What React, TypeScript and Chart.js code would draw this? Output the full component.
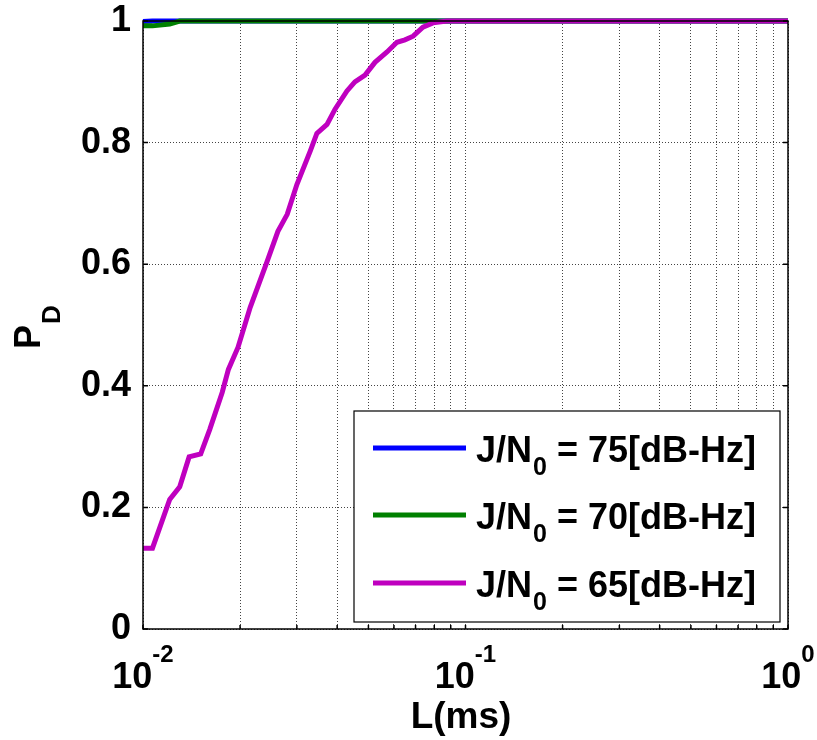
import React, { useEffect, useRef } from 'react';
import { Chart, registerables } from 'chart.js';

Chart.register(...registerables);

// ---- data ----
const xL65 = [0.01, 0.0107, 0.0121, 0.013, 0.0139, 0.0151, 0.0161, 0.0176, 0.0184, 0.0197, 0.0215, 0.0242, 0.0262, 0.028, 0.03, 0.033, 0.0346, 0.0372, 0.0394, 0.0429, 0.0454, 0.0488, 0.0524, 0.0571, 0.0613, 0.0649, 0.0688, 0.0738, 0.0793, 0.0876, 0.1, 1];
const yPD65 = [0.133, 0.133, 0.213, 0.234, 0.283, 0.288, 0.328, 0.389, 0.427, 0.463, 0.529, 0.603, 0.654, 0.682, 0.731, 0.786, 0.815, 0.83, 0.855, 0.885, 0.9, 0.911, 0.932, 0.949, 0.965, 0.969, 0.975, 0.99, 0.997, 1, 1, 1];
const xL70 = [0.01, 0.0107, 0.0121, 0.013, 1];
const yPD70 = [0.992, 0.992, 0.995, 1, 1];
const xL75 = [0.01, 0.0107, 1];
const yPD75 = [0.999, 1, 1];

const seriesLevels = ['75', '70', '65'];
const seriesColors = ['#0000FF', '#008000', '#BF00BF'];

const yTickValues = [0, 0.2, 0.4, 0.6, 0.8, 1];
const yTickLabels = ['0', '0.2', '0.4', '0.6', '0.8', '1'];
const xTickValues = [0.01, 0.02, 0.03, 0.04, 0.05, 0.06, 0.07, 0.08, 0.09, 0.1, 0.2, 0.3, 0.4, 0.5, 0.6, 0.7, 0.8, 0.9, 1];
const xDecadeValues = [0.01, 0.1, 1];
const xDecadeExps = ['-2', '-1', '0'];
const xTitle = 'L(ms)';
const yTitleMain = 'P';
const yTitleSub = 'D';

const FONT = "'Liberation Sans', Arial, sans-serif";
const LINE_W = 5;

function toXY(xs: number[], ys: number[]) {
  return xs.map((x, i) => ({ x, y: ys[i] }));
}

function zeroPadding(scale: any) {
  scale.paddingTop = 0;
  scale.paddingBottom = 0;
  scale.paddingLeft = 0;
  scale.paddingRight = 0;
}

const overlayPlugin = {
  id: 'overlay',
  afterDraw(chart: any) {
    const ctx = chart.ctx as CanvasRenderingContext2D;
    const { left, right, top, bottom } = chart.chartArea;
    const xs = chart.scales.x;
    const ys = chart.scales.y;
    ctx.save();

    // axes box
    ctx.strokeStyle = '#000';
    ctx.lineWidth = 1.5;
    ctx.strokeRect(left, top, right - left, bottom - top);

    // inward ticks
    ctx.lineWidth = 1.5;
    ctx.beginPath();
    yTickValues.forEach((v) => {
      const py = ys.getPixelForValue(v);
      ctx.moveTo(left, py);
      ctx.lineTo(left + 5, py);
      ctx.moveTo(right, py);
      ctx.lineTo(right - 5, py);
    });
    xTickValues.forEach((v) => {
      const px = xs.getPixelForValue(v);
      ctx.moveTo(px, bottom);
      ctx.lineTo(px, bottom - 4);
    });
    ctx.stroke();

    // x tick labels 10^n
    ctx.fillStyle = '#000';
    ctx.textBaseline = 'alphabetic';
    ctx.textAlign = 'left';
    xDecadeValues.forEach((v, i) => {
      const px = xs.getPixelForValue(v);
      ctx.font = `bold 36px ${FONT}`;
      const wb = ctx.measureText('10').width;
      ctx.font = `bold 24px ${FONT}`;
      const we = ctx.measureText(xDecadeExps[i]).width;
      const x0 = px - (wb + we) / 2;
      ctx.font = `bold 36px ${FONT}`;
      ctx.fillText('10', x0, 688);
      ctx.font = `bold 24px ${FONT}`;
      ctx.fillText(xDecadeExps[i], x0 + wb, 662);
    });

    // x title
    ctx.font = `bold 37px ${FONT}`;
    ctx.textAlign = 'center';
    ctx.fillText(xTitle, 461, 728);

    // y title P_D rotated
    ctx.save();
    ctx.translate(40, 349);
    ctx.rotate(-Math.PI / 2);
    ctx.textAlign = 'left';
    ctx.font = `bold 36px ${FONT}`;
    ctx.fillText(yTitleMain, 0, 0);
    const wp = ctx.measureText(yTitleMain).width;
    ctx.font = `bold 26px ${FONT}`;
    ctx.fillText(yTitleSub, wp + 1, 20);
    ctx.restore();

    // legend
    const lx0 = 354, ly0 = 411, lx1 = 780, ly1 = 622;
    ctx.fillStyle = '#fff';
    ctx.fillRect(lx0, ly0, lx1 - lx0, ly1 - ly0);
    ctx.strokeStyle = '#000';
    ctx.lineWidth = 1.2;
    ctx.strokeRect(lx0, ly0, lx1 - lx0, ly1 - ly0);
    const rowY = [448, 515, 583];
    seriesLevels.forEach((lev, i) => {
      const y = rowY[i];
      ctx.strokeStyle = seriesColors[i];
      ctx.lineWidth = LINE_W;
      ctx.beginPath();
      ctx.moveTo(373, y);
      ctx.lineTo(466, y);
      ctx.stroke();
      ctx.fillStyle = '#000';
      ctx.textAlign = 'left';
      let x = 476;
      const base = y + 14;
      ctx.font = `bold 36px ${FONT}`;
      ctx.fillText('J/N', x, base);
      x += ctx.measureText('J/N').width;
      ctx.font = `bold 25px ${FONT}`;
      ctx.fillText('0', x + 1, base + 13);
      x += ctx.measureText('0').width + 1;
      ctx.font = `bold 36px ${FONT}`;
      ctx.fillText(` = ${lev}[dB-Hz]`, x, base);
    });

    ctx.restore();
  },
};

export default function App() {
  const canvasRef = useRef<HTMLCanvasElement | null>(null);

  useEffect(() => {
    const canvas = canvasRef.current;
    if (!canvas) return;
    const mk = (label: string, xs: number[], ys: number[], color: string, order: number) => ({
      label,
      data: toXY(xs, ys),
      borderColor: color,
      borderWidth: LINE_W,
      pointRadius: 0,
      tension: 0,
      fill: false,
      order,
      clip: false,
    });
    const chart = new Chart(canvas, {
      type: 'line',
      data: {
        datasets: [
          mk('J/N0 = 75[dB-Hz]', xL75, yPD75, seriesColors[0], 3),
          mk('J/N0 = 70[dB-Hz]', xL70, yPD70, seriesColors[1], 2),
          mk('J/N0 = 65[dB-Hz]', xL65, yPD65, seriesColors[2], 1),
        ],
      },
      options: {
        animation: false,
        responsive: false,
        maintainAspectRatio: false,
        devicePixelRatio: 1,
        layout: { padding: { left: 0, top: 21, right: 29, bottom: 0 } },
        plugins: {
          legend: { display: false },
          tooltip: { enabled: false },
        },
        scales: {
          x: {
            type: 'logarithmic',
            min: 0.01,
            max: 1,
            afterBuildTicks: (scale: any) => {
              scale.ticks = xTickValues.map((v) => ({ value: v }));
            },
            afterFit: (scale: any) => {
              scale.height = 111;
              zeroPadding(scale);
            },
            ticks: {
              autoSkip: false,
              callback: () => '',
              font: { size: 10, lineHeight: 1 },
            },
            grid: {
              color: '#444',
              lineWidth: 1,
              drawTicks: false,
            },
            border: { display: false, dash: [1, 2] },
          },
          y: {
            type: 'linear',
            min: 0,
            max: 1,
            afterBuildTicks: (scale: any) => {
              scale.ticks = yTickValues.map((v) => ({ value: v }));
            },
            afterFit: (scale: any) => {
              scale.width = 143;
              zeroPadding(scale);
            },
            ticks: {
              autoSkip: false,
              padding: 12,
              color: '#000',
              font: { family: FONT, size: 36, weight: 'bold', lineHeight: 1 },
              callback: (v: any) => {
                const idx = yTickValues.indexOf(Number(v));
                return idx >= 0 ? yTickLabels[idx] : '';
              },
            },
            grid: {
              color: '#444',
              lineWidth: 1,
              drawTicks: false,
            },
            border: { display: false, dash: [1, 2] },
          },
        },
      },
      plugins: [overlayPlugin],
    } as any);
    return () => chart.destroy();
  }, []);

  return (
    <div style={{ position: 'absolute', left: 0, top: 0, width: 817, height: 740, background: '#fff' }}>
      <canvas ref={canvasRef} width={817} height={740} style={{ width: 817, height: 740, display: 'block' }} />
    </div>
  );
}
